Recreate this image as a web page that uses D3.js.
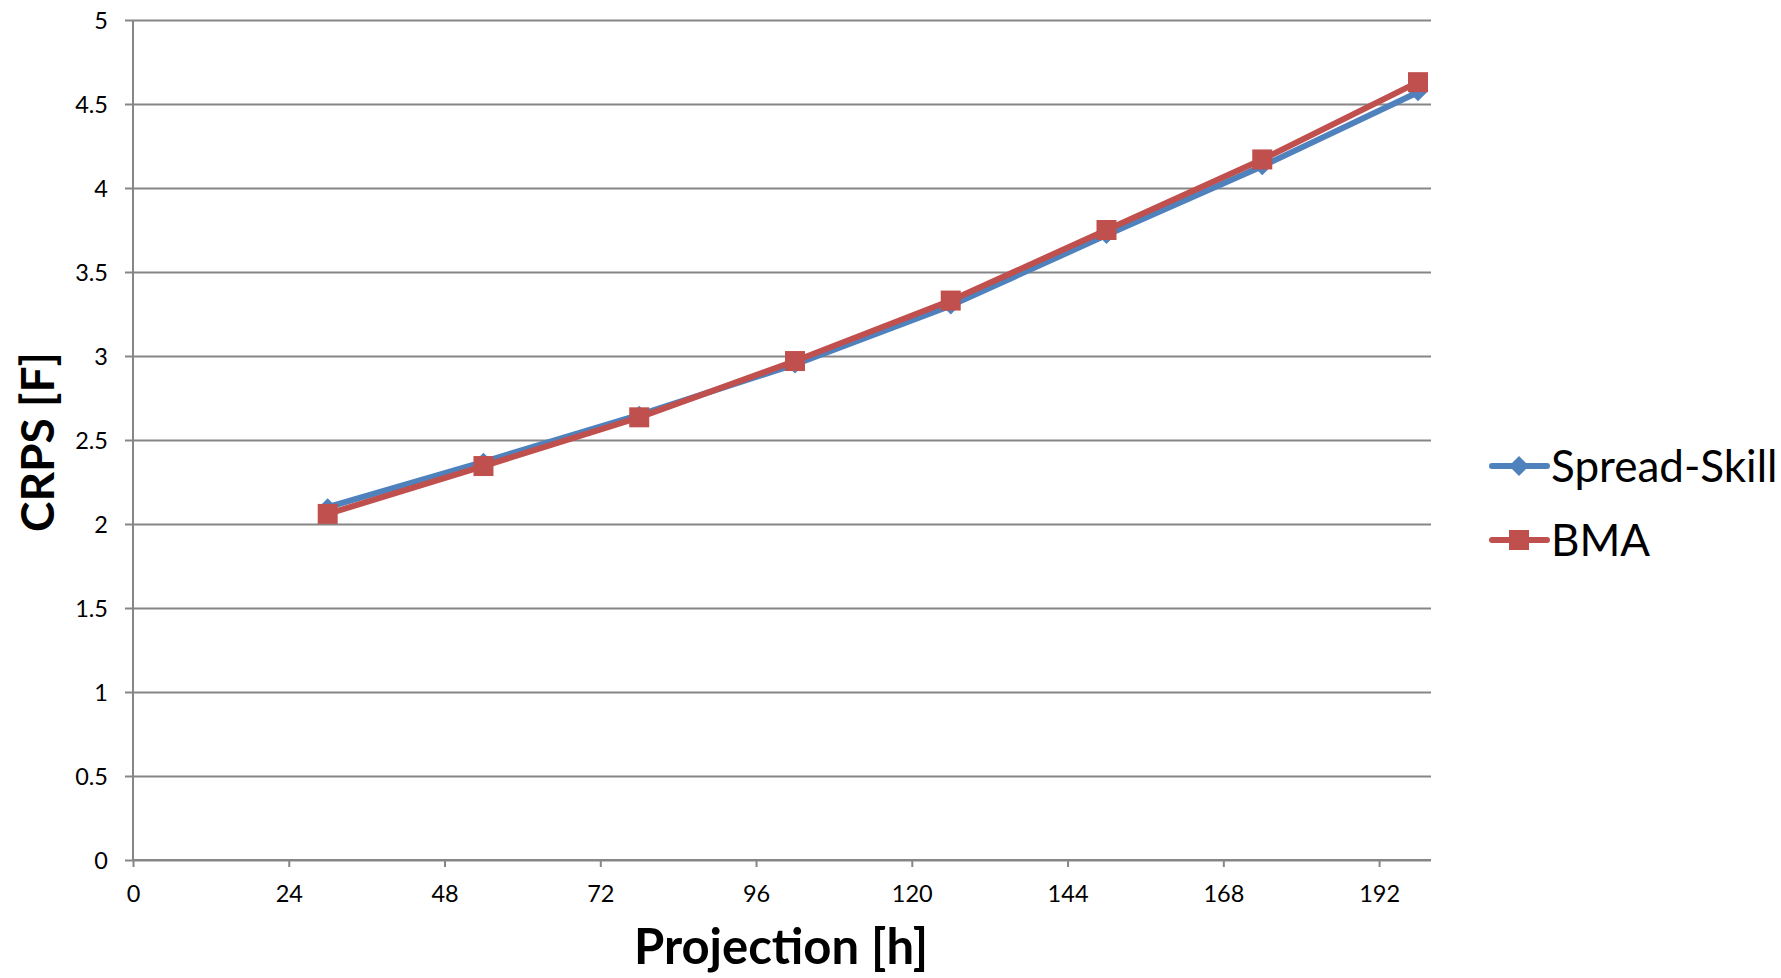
<!DOCTYPE html>
<html>
<head>
<meta charset="utf-8">
<script src="https://cdn.jsdelivr.net/npm/d3@7"></script>
<style>
  html, body { margin: 0; padding: 0; background: #fff; }
  svg { display: block; font-family: Lato, "Open Sans", sans-serif; }
</style>
</head>
<body>
<svg id="chart" width="1781" height="978"></svg>
<script>
// Forecast projection times (hours)
const projections = [30, 54, 78, 102, 126, 150, 174, 198];
// CRPS per method
const spreadSkill = [2.10, 2.37, 2.65, 2.95, 3.30, 3.72, 4.13, 4.57];
const bma         = [2.06, 2.345, 2.635, 2.97, 3.33, 3.75, 4.17, 4.63];
const seriesNames = ["Spread-Skill", "BMA"];
const xTicks = [0, 24, 48, 72, 96, 120, 144, 168, 192];
const yTicks = [0, 0.5, 1, 1.5, 2, 2.5, 3, 3.5, 4, 4.5, 5];
const xTitle = "Projection [h]";
const yTitle = "CRPS [F]";

const colors = { "Spread-Skill": "#4F81BD", "BMA": "#C0504D" };
const gridColor = "#868686";

const svg = d3.select("#chart");
const plot = { left: 133, right: 1431, top: 20, bottom: 860 };

const x = d3.scaleLinear().domain([0, 200]).range([plot.left, plot.right]);
const y = d3.scaleLinear().domain([0, 5]).range([plot.bottom, plot.top]);

// Horizontal gridlines with left tick marks and labels
const yAxis = d3.axisLeft(y)
  .tickValues(yTicks)
  .tickSize(-(plot.right - plot.left))
  .tickFormat(d => String(d));
const gy = svg.append("g")
  .attr("transform", `translate(${plot.left},0)`)
  .call(yAxis);
gy.select(".domain").remove();
gy.selectAll(".tick line").attr("stroke", gridColor).attr("stroke-width", 2);
gy.selectAll(".tick")
  .append("line")
  .attr("x1", -8).attr("x2", 0)
  .attr("stroke", gridColor).attr("stroke-width", 2);
gy.selectAll(".tick text")
  .attr("fill", "#000")
  .attr("font-size", 23.5)
  .attr("font-family", "Lato, sans-serif")
  .attr("x", -25)
  .attr("dy", "0.36em");

// Vertical axis line
svg.append("line")
  .attr("x1", plot.left).attr("x2", plot.left)
  .attr("y1", plot.top).attr("y2", plot.bottom)
  .attr("stroke", gridColor).attr("stroke-width", 2);

// Bottom axis
const xAxis = d3.axisBottom(x)
  .tickValues(xTicks)
  .tickSize(7)
  .tickPadding(18)
  .tickSizeOuter(0);
const gx = svg.append("g")
  .attr("transform", `translate(0,${plot.bottom})`)
  .call(xAxis);
gx.select(".domain").attr("stroke", gridColor).attr("stroke-width", 2)
  .attr("d", `M${plot.left},0H${plot.right}`);
gx.selectAll(".tick line").attr("stroke", gridColor).attr("stroke-width", 2);
gx.selectAll(".tick text")
  .attr("fill", "#000")
  .attr("font-size", 23.5)
  .attr("font-family", "Lato, sans-serif");

// Axis titles
svg.append("text")
  .attr("x", 781)
  .attr("y", 964)
  .attr("text-anchor", "middle")
  .attr("font-size", 49)
  .attr("font-weight", "bold")
  .attr("fill", "#000")
  .text(xTitle);

svg.append("text")
  .attr("transform", `translate(54,442) rotate(-90)`)
  .attr("text-anchor", "middle")
  .attr("font-size", 46)
  .attr("font-weight", "bold")
  .attr("fill", "#000")
  .text(yTitle);

// Series lines and markers
const data = [
  { name: "Spread-Skill", values: spreadSkill, marker: "diamond" },
  { name: "BMA", values: bma, marker: "square" }
];

const line = d3.line()
  .x(d => x(d.x))
  .y(d => y(d.y));

const diamondPath = s => `M0,${-s}L${s},0L0,${s}L${-s},0Z`;
const squarePath = s => `M${-s},${-s}H${s}V${s}H${-s}Z`;

data.forEach(series => {
  const pts = projections.map((p, i) => ({ x: p, y: series.values[i] }));
  const c = colors[series.name];
  svg.append("path")
    .datum(pts)
    .attr("d", line)
    .attr("fill", "none")
    .attr("stroke", c)
    .attr("stroke-width", 6)
    .attr("stroke-linejoin", "round");
  svg.append("g").selectAll("path")
    .data(pts)
    .join("path")
    .attr("transform", d => `translate(${x(d.x)},${y(d.y)})`)
    .attr("d", series.marker === "diamond" ? diamondPath(9) : squarePath(10))
    .attr("fill", c);
});

// Legend
const legend = svg.append("g");
const legendRows = [
  { name: seriesNames[0], marker: "diamond", cy: 466 },
  { name: seriesNames[1], marker: "square", cy: 540 }
];
legendRows.forEach(r => {
  const c = colors[r.name];
  legend.append("line")
    .attr("x1", 1492).attr("x2", 1547)
    .attr("y1", r.cy).attr("y2", r.cy)
    .attr("stroke", c).attr("stroke-width", 6)
    .attr("stroke-linecap", "round");
  legend.append("path")
    .attr("transform", `translate(1519,${r.cy})`)
    .attr("d", r.marker === "diamond" ? diamondPath(10) : squarePath(10))
    .attr("fill", c);
  legend.append("text")
    .attr("x", 1551)
    .attr("y", r.cy + 16)
    .attr("font-size", 44)
    .attr("fill", "#000")
    .text(r.name);
});
</script>
</body>
</html>
